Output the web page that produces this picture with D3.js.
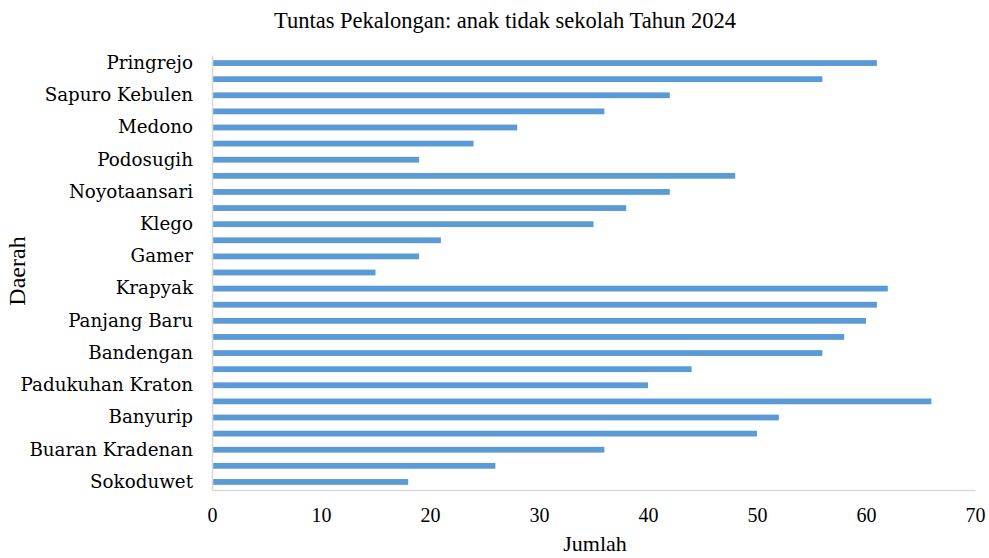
<!DOCTYPE html>
<html>
<head>
<meta charset="utf-8">
<script src="https://cdn.jsdelivr.net/npm/d3@7"></script>
<style>
	body { margin: 0; background: #fff; }
	svg text { font-family: "Liberation Serif", "Times New Roman", serif; fill: #000; }
	svg .ylab text { font-family: "DejaVu Serif", serif; }
</style>
</head>
<body>
<div id="chart"></div>
<script>
// categories, bottom to top (Excel order); only every other one is labelled
var daerah = ["Sokoduwet", "Kuripan Kidul", "Buaran Kradenan", "Jenggot", "Banyurip",
	"Kuripan Lor", "Padukuhan Kraton", "Panjang Wetan", "Bandengan", "Kandang Panjang",
	"Panjang Baru", "Degayu", "Krapyak", "Setono", "Gamer", "Kauman", "Klego",
	"Poncol", "Noyotaansari", "Tirto", "Podosugih", "Bendan Kergon", "Medono",
	"Kergon", "Sapuro Kebulen", "Pasirkratonkramat", "Pringrejo"];
var jumlah = [18, 26, 36, 50, 52, 66, 40, 44, 56, 58, 60, 61, 62, 15, 19, 21, 35,
	38, 42, 48, 19, 24, 28, 36, 42, 56, 61];
var xTicks = [0, 10, 20, 30, 40, 50, 60, 70];

var data = daerah.map(function(d, i) {
	return { name: d, value: jumlah[i] };
});

const W = 989, H = 558;
const margin = { top: 55, right: 14, bottom: 68, left: 212 };
const width = W - margin.left - margin.right;
const height = H - margin.top - margin.bottom;

const svg = d3.select("#chart").append("svg")
	.attr("width", W)
	.attr("height", H);

const g = svg.append("g")
	.attr("transform", "translate(" + margin.left + "," + margin.top + ")");

const xScale = d3.scaleLinear()
	.domain([0, 70])
	.range([0, width]);

const yScale = d3.scaleBand()
	.domain(daerah.slice().reverse())
	.range([0, height])
	.paddingInner(0.64)
	.paddingOuter(0.32);

g.selectAll(".bar")
	.data(data)
	.enter()
	.append("rect")
	.attr("class", "bar")
	.attr("x", 0)
	.attr("y", d => yScale(d.name))
	.attr("width", d => xScale(d.value))
	.attr("height", yScale.bandwidth())
	.attr("fill", "#5b9bd5");

// bottom axis: line only, labels below
const xAxis = d3.axisBottom(xScale).tickValues(xTicks).tickSize(0).tickPadding(18);
const gx = g.append("g")
	.attr("transform", "translate(0," + height + ")")
	.call(xAxis);
gx.select(".domain").attr("stroke", "#d9d9d9").attr("stroke-width", 1.5);
gx.selectAll("text").style("font-size", "20px");

const labelled = daerah.filter((d, i) => i % 2 == 0);
const yAxis = d3.axisLeft(yScale).tickValues(labelled).tickSize(0).tickPadding(19);
const gy = g.append("g").attr("class", "ylab").call(yAxis);
gy.select(".domain").attr("stroke", "#d9d9d9").attr("stroke-width", 1.5);
gy.selectAll("text").style("font-size", "18.3px");

svg.append("text")
	.attr("x", 505)
	.attr("y", 28)
	.attr("text-anchor", "middle")
	.style("font-size", "22.5px")
	.text("Tuntas Pekalongan: anak tidak sekolah Tahun 2024");

svg.append("text")
	.attr("x", 595)
	.attr("y", 551)
	.attr("text-anchor", "middle")
	.style("font-size", "22px")
	.text("Jumlah");

svg.append("text")
	.attr("transform", "translate(25,271) rotate(-90)")
	.attr("text-anchor", "middle")
	.style("font-size", "24px")
	.text("Daerah");
</script>
</body>
</html>
